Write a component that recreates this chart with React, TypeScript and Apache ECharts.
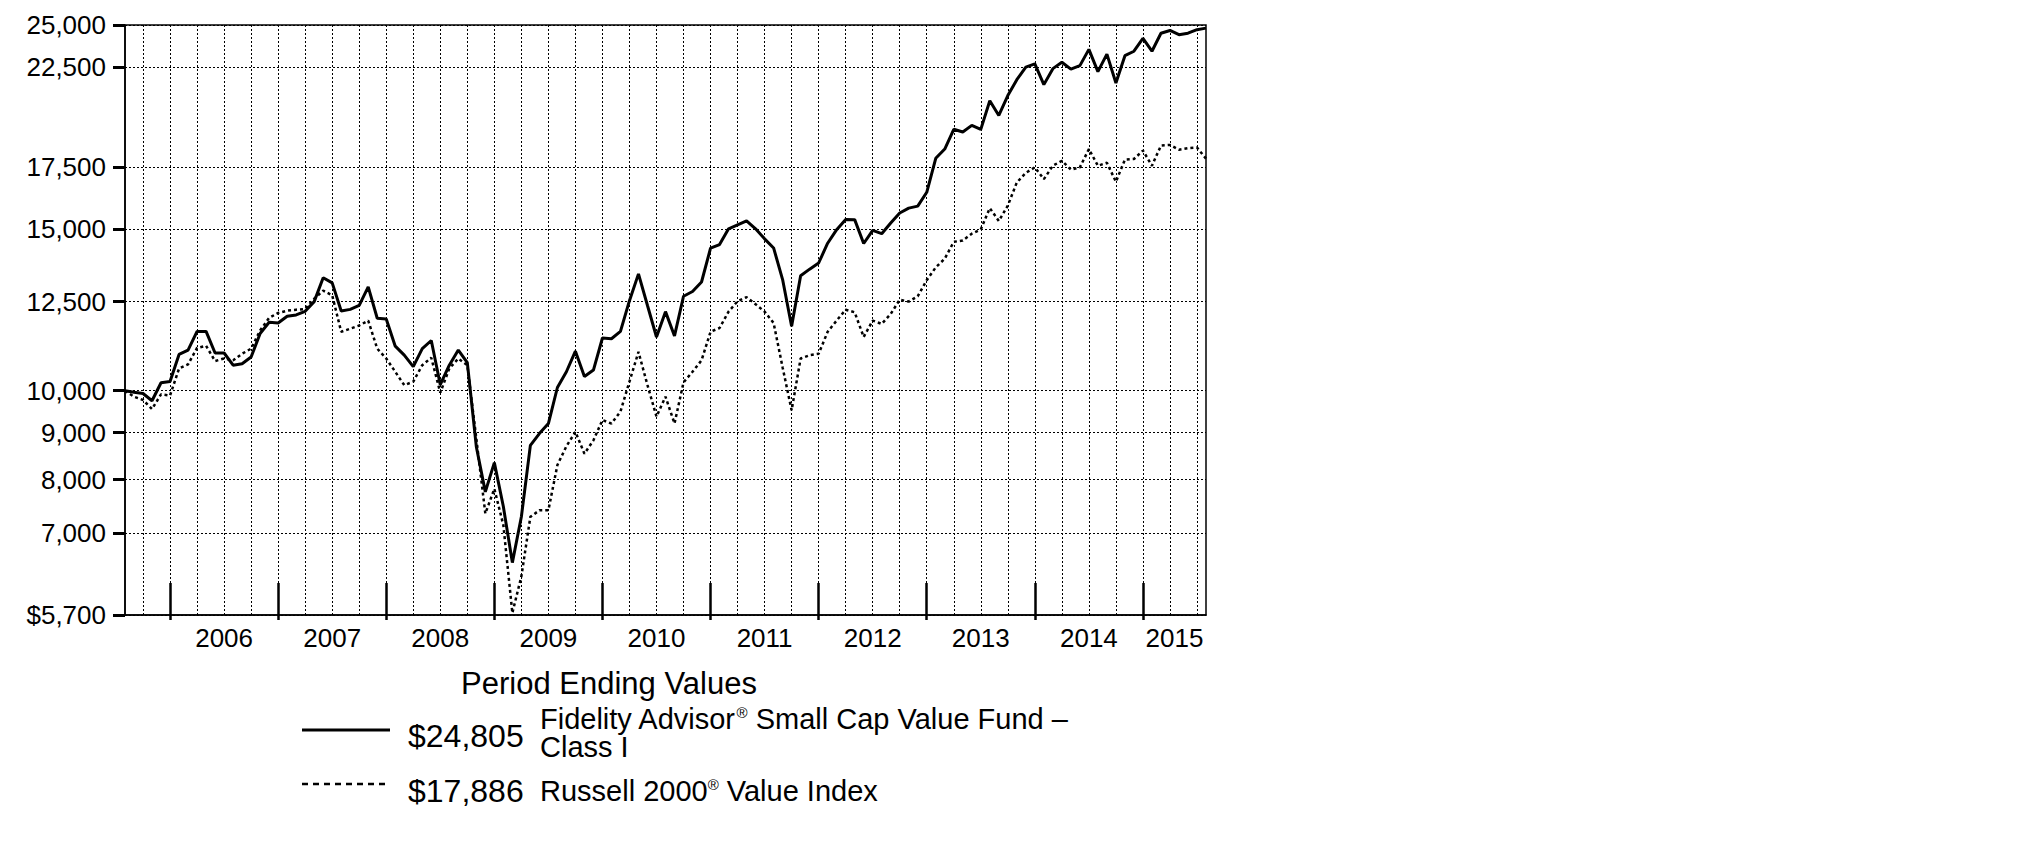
import React, { useEffect, useRef } from 'react';
import * as echarts from 'echarts';

// Month-end values, Jul 31, 2005 ... Jul 31, 2015
const START_YEAR = 2005;
const START_MONTH = 7;

const fundValues = [
  10000, 9960, 9930, 9750, 10200, 10230, 10950, 11070, 11600, 11600,
  10990, 10990, 10660, 10700, 10880, 11540, 11870, 11850, 12050, 12090,
  12200, 12500, 13270, 13100, 12210, 12260, 12380, 12970, 11990, 11965,
  11180, 10930, 10620, 11110, 11340, 10150, 10660, 11070, 10730, 8690,
  7760, 8350, 7480, 6500, 7290, 8720, 8980, 9210, 10080, 10485,
  11040, 10360, 10530, 11410, 11390, 11600, 12530, 13400, 12380, 11440,
  12190, 11470, 12670, 12820, 13130, 14290, 14420, 15000, 15150, 15300,
  15000, 14630, 14300, 13210, 11750, 13340, 13560, 13770, 14470, 14970,
  15360, 15350, 14460, 14940, 14820, 15220, 15610, 15800, 15880, 16440,
  17900, 18320, 19250, 19120, 19440, 19245, 20680, 19930, 20950, 21800,
  22500, 22680, 21530, 22410, 22770, 22380, 22580, 23520, 22240, 23240,
  21620, 23150, 23410, 24180, 23410, 24490, 24660, 24400, 24490, 24710,
  24805,
];

const indexValues = [
  10000, 9850, 9770, 9550, 9910, 9880, 10570, 10680, 11130, 11190,
  10770, 10840, 10790, 10970, 11110, 11630, 12000, 12150, 12220, 12250,
  12270, 12590, 12850, 12700, 11590, 11680, 11775, 11920, 11110, 10840,
  10485, 10140, 10230, 10660, 10860, 9950, 10570, 10840, 10660, 8870,
  7350, 7820, 7140, 5730, 6280, 7290, 7410, 7410, 8300, 8700,
  9020, 8540, 8830, 9290, 9210, 9490, 10230, 11020, 10140, 9370,
  9850, 9210, 10210, 10485, 10790, 11590, 11700, 12190, 12510, 12640,
  12420, 12190, 11850, 10600, 9520, 10840, 10930, 10970, 11590, 11920,
  12250, 12170, 11440, 11920, 11820, 12120, 12560, 12500, 12670, 13190,
  13620, 13920, 14520, 14570, 14820, 14980, 15800, 15300, 15900, 16850,
  17260, 17500, 16990, 17570, 17790, 17400, 17500, 18320, 17570, 17700,
  16880, 17840, 17870, 18250, 17570, 18480, 18510, 18290, 18360, 18390,
  17886,
];

const yTickValues = [5700, 7000, 8000, 9000, 10000, 12500, 15000, 17500, 22500, 25000];
const yTickLabels = ['$5,700', '7,000', '8,000', '9,000', '10,000', '12,500', '15,000', '17,500', '22,500', '25,000'];
const yearLabels = ['2006', '2007', '2008', '2009', '2010', '2011', '2012', '2013', '2014', '2015'];

const legendTitle = 'Period Ending Values';
const fundEnding = '$24,805';
const indexEnding = '$17,886';
const fundNameParts = ['Fidelity Advisor', '®', ' Small Cap Value Fund –', 'Class I'];
const indexNameParts = ['Russell 2000', '®', ' Value Index'];

const FONT = '"Liberation Sans", Arial, Helvetica, sans-serif';

export default function App() {
  const ref = useRef<HTMLDivElement>(null);

  useEffect(() => {
    if (!ref.current) return;
    const chart = echarts.init(ref.current, undefined, { renderer: 'svg' });
    const n = fundValues.length;
    const monthOf = (i: number) => ((START_MONTH - 1 + i) % 12) + 1;
    const yearOf = (i: number) => START_YEAR + Math.floor((START_MONTH - 1 + i) / 12);

    const quarterIdx: number[] = [];
    const yearTickIdx: number[] = [];
    for (let i = 0; i < n; i++) {
      if (monthOf(i) % 3 === 0) quarterIdx.push(i);
      if (monthOf(i) === 12) yearTickIdx.push(i);
    }
    const yearLabelPos = yearLabels.map((y) => {
      const yr = Number(y);
      let s = 0;
      let e = n - 1;
      for (let i = 0; i < n; i++) {
        if (monthOf(i) === 12 && yearOf(i) === yr - 1) s = i;
        if (monthOf(i) === 12 && yearOf(i) === yr) e = i;
      }
      return (s + e) / 2;
    });

    const xFmt = (v: number) => {
      let best = 0;
      for (let k = 0; k < yearLabelPos.length; k++) {
        if (Math.abs(yearLabelPos[k] - v) < Math.abs(yearLabelPos[best] - v)) best = k;
      }
      return yearLabels[best];
    };
    const yFmt = (v: number) => {
      let best = 0;
      for (let k = 0; k < yTickValues.length; k++) {
        if (Math.abs(Math.log(yTickValues[k] / v)) < Math.abs(Math.log(yTickValues[best] / v))) best = k;
      }
      return yTickLabels[best];
    };

    const gridLine = { color: '#000', width: 1, type: [2, 2] as any };
    const richLabel = {
      a: { fontSize: 29, fontFamily: FONT, lineHeight: 28, fill: '#000' },
      s: { fontSize: 15, fontFamily: FONT, lineHeight: 28, verticalAlign: 'top', fill: '#000' },
    };

    const option: any = {
      animation: false,
      backgroundColor: '#fff',
      grid: {
        left: 125, top: 25, width: 1081, height: 590,
        show: true, borderColor: '#000', borderWidth: 1.5, backgroundColor: 'transparent',
      },
      xAxis: [
        {
          type: 'value', min: 0, max: n - 1, position: 'bottom',
          axisLine: { show: true, lineStyle: { color: '#000', width: 1.5 } },
          axisTick: { show: false, customValues: quarterIdx },
          splitLine: { show: true, lineStyle: gridLine },
          axisLabel: {
            customValues: yearLabelPos, formatter: xFmt, fontSize: 26, color: '#000',
            fontFamily: FONT, margin: 10,
          },
        },
        {
          type: 'value', min: 0, max: n - 1, position: 'bottom', offset: 5,
          axisLine: { show: false },
          axisTick: { show: true, inside: true, length: 37, customValues: yearTickIdx, lineStyle: { color: '#000', width: 2.5 } },
          axisLabel: { show: false },
          splitLine: { show: false },
        },
      ],
      yAxis: {
        type: 'log', logBase: 10, min: 5700, max: 25000,
        axisLine: { show: true, lineStyle: { color: '#000', width: 1.5 } },
        axisTick: { show: true, length: 12, customValues: yTickValues, lineStyle: { color: '#000', width: 3 } },
        splitLine: { show: true, lineStyle: gridLine },
        axisLabel: {
          customValues: yTickValues, formatter: yFmt, fontSize: 26, color: '#000',
          fontFamily: FONT, margin: 19,
        },
      },
      series: [
        {
          name: 'Russell 2000® Value Index', type: 'line', xAxisIndex: 0, yAxisIndex: 0,
          data: indexValues.map((v, i) => [i, v]), showSymbol: false, symbol: 'none',
          lineStyle: { color: '#000', width: 2.5, type: [3, 3] },
          z: 2,
        },
        {
          name: 'Fidelity Advisor® Small Cap Value Fund – Class I', type: 'line', xAxisIndex: 0, yAxisIndex: 0,
          data: fundValues.map((v, i) => [i, v]), showSymbol: false, symbol: 'none',
          lineStyle: { color: '#000', width: 3 },
          z: 3,
        },
      ],
      graphic: [
        {
          type: 'text', x: 609, y: 683,
          style: { text: legendTitle, fontSize: 31, fontFamily: FONT, fill: '#000', align: 'center', verticalAlign: 'middle' },
        },
        { type: 'line', shape: { x1: 302, y1: 730, x2: 390, y2: 730 }, style: { stroke: '#000', lineWidth: 3 } },
        {
          type: 'text', x: 408, y: 736,
          style: { text: fundEnding, fontSize: 32, fontFamily: FONT, fill: '#000', align: 'left', verticalAlign: 'middle' },
        },
        {
          type: 'text', x: 540, y: 733,
          style: {
            text: `{a|${fundNameParts[0]}}{s|${fundNameParts[1]}}{a|${fundNameParts[2]}}\n{a|${fundNameParts[3]}}`,
            align: 'left', verticalAlign: 'middle', fill: '#000',
            rich: richLabel,
          },
        },
        { type: 'line', shape: { x1: 302, y1: 784, x2: 390, y2: 784 }, style: { stroke: '#000', lineWidth: 2.5, lineDash: [6, 5] } },
        {
          type: 'text', x: 408, y: 791,
          style: { text: indexEnding, fontSize: 32, fontFamily: FONT, fill: '#000', align: 'left', verticalAlign: 'middle' },
        },
        {
          type: 'text', x: 540, y: 791,
          style: {
            text: `{a|${indexNameParts[0]}}{s|${indexNameParts[1]}}{a|${indexNameParts[2]}}`,
            align: 'left', verticalAlign: 'middle', fill: '#000',
            rich: richLabel,
          },
        },
      ],
    };

    chart.setOption(option);
    return () => chart.dispose();
  }, []);

  return (
    <div
      ref={ref}
      style={{ position: 'absolute', left: 0, top: 0, width: 2026, height: 852, background: '#fff' }}
    />
  );
}
